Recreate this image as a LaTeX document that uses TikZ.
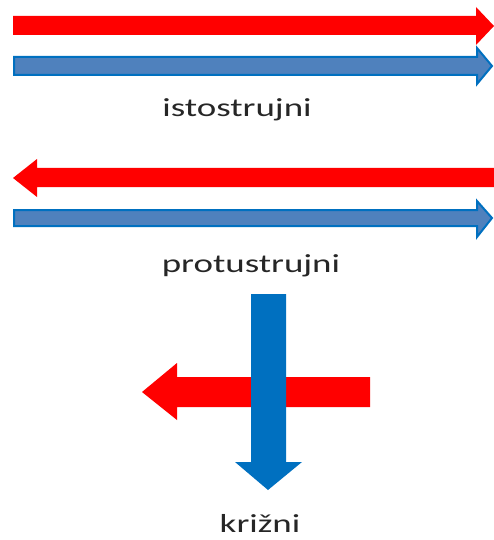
\documentclass[tikz,border=0pt]{standalone}
\usepackage{fontspec}
\setmainfont{Carlito}
\newfontfamily\labelfont[FakeStretch=1.42]{Carlito}
\usepackage{xcolor}
\definecolor{hotred}{RGB}{255, 0, 0}
\definecolor{coldedge}{RGB}{0, 112, 192}
\definecolor{coldfill}{RGB}{79, 129, 189}
\usepackage{tikz}

\begin{document}
\begin{tikzpicture}[
    x=1pt, y=-1pt,
    hot/.style={fill=hotred},
    cold/.style={fill=coldfill, draw=coldedge, line width=2pt, line join=miter},
    coldsolid/.style={fill=coldedge},
    caption/.style={anchor=base, inner sep=0pt, font=\labelfont\fontsize{26}{26}\selectfont, text=black!85}
]
\useasboundingbox (0,0) rectangle (494,540);

% ==================== ISTOSTRUJNI ====================
\fill[hot] (13,16) -- (476,16) -- (476,7) -- (494,26) -- (476,45) -- (476,35) -- (13,35) -- cycle;
\draw[cold] (14,57) -- (477,57) -- (477,48) -- (492,66) -- (477,84) -- (477,75) -- (14,75) -- cycle;
\node[caption] (parallel) at (237,117) {istostrujni};

% ==================== PROTUSTRUJNI ====================
\fill[hot] (494,168) -- (37,168) -- (37,159) -- (13,178) -- (37,197) -- (37,187) -- (494,187) -- cycle;
\draw[cold] (14,210) -- (477,210) -- (477,201) -- (492,218) -- (477,237) -- (477,226) -- (14,226) -- cycle;
\node[caption] (counter) at (251,272) {protustrujni};

% ==================== KRIZNI ====================
\fill[hot] (370,377) -- (177,377) -- (177,363) -- (142,392) -- (177,420) -- (177,407) -- (370,407) -- cycle;
\fill[coldsolid] (251,294) -- (286,294) -- (286,462) -- (302,462) -- (268,490) -- (235,462) -- (251,462) -- cycle;
\node[caption] (cross) at (260,532) {križni};

\end{tikzpicture}
\end{document}
